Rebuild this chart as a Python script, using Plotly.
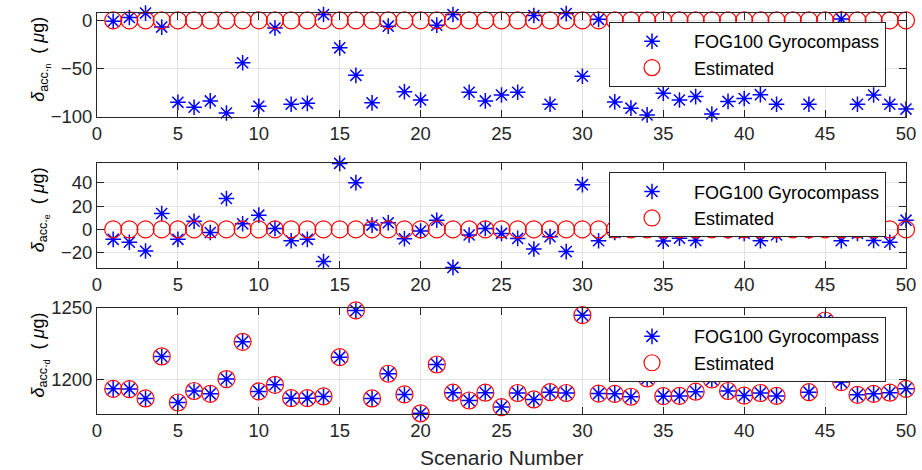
import plotly.graph_objects as go
from plotly.subplots import make_subplots

scenarios = list(range(1, 51))

# North accelerometer bias (µg)
fog_n = [-1, 3, 7.5, -7, -85, -90, -83.5, -96, -44, -89,
         -8, -87, -86, 6, -28.5, -57, -85.5, -6, -74, -82.5,
         -5, 6, -74.5, -83.5, -77.3, -74.5, 5, -87, 7, -58,
         1, -84.5, -91, -98, -75.5, -82.5, -79, -97, -84, -81,
         -77, -87, -30, -87, -35, 1.5, -87, -77.3, -87, -92]
est_n = [0] * 50

# East accelerometer bias (µg)
fog_e = [-8.5, -11, -18.5, 13.6, -8.5, 7, -2.6, 26.4, 4.8, 12.2,
         0.8, -9.7, -8.5, -27.5, 56.5, 40, 3.7, 5.7, -8, -1.4,
         7.9, -32.5, -4.8, 0.8, -3.4, -7.7, -16.8, -6.2, -19, 38.3,
         -9.7, -2.6, 1, 3, -10, -7.5, -9.5, 2, -1.4, -3.4,
         -9.7, -4.8, 3, -1.4, 4, -9.7, -3.4, -9.5, -11, 7.9]
est_e = [0] * 50

# Down accelerometer bias (µg)
fog_d = [1193.5, 1193.3, 1186.8, 1216, 1184, 1192, 1190, 1200.3, 1226.2, 1191.7,
         1196.3, 1187, 1187, 1188.2, 1215.5, 1248, 1186.8, 1204, 1189.6, 1176.5,
         1210.4, 1190.8, 1185.4, 1190.8, 1180.8, 1190.6, 1186.1, 1191.2, 1190.6, 1244.7,
         1190.2, 1190, 1188, 1200.7, 1188.4, 1188.6, 1191.5, 1200, 1192, 1188.8,
         1190.6, 1188.6, 1220, 1191.2, 1241, 1198.2, 1189.3, 1190, 1190.8, 1193.5]
est_d = list(fog_d)

x_ticks = list(range(0, 51, 5))
y_ticks = [[-100, -50, 0], [-20, 0, 20, 40], [1200, 1250]]
y_ranges = [[-100, 7.6], [-32.7, 56.5], [1176, 1250]]
y_labels = ["<i>δ</i><sub>acc.<sub>n</sub></sub>  ( <i>μ</i>g)",
            "<i>δ</i><sub>acc.<sub>e</sub></sub>  ( <i>μ</i>g)",
            "<i>δ</i><sub>acc.<sub>d</sub></sub>  ( <i>μ</i>g)"]

W, H = 922, 470
L, R = 97, 906
tops = [12.7, 163.3, 307.7]
bots = [116.7, 267.7, 414.3]
T, B = tops[0], bots[2]
ph = B - T

def dom(i):
    return [(B - bots[i]) / ph, (B - tops[i]) / ph]

FONT = "Arial, Liberation Sans, sans-serif"
fig = make_subplots(rows=3, cols=1)

data = [(fog_n, est_n), (fog_e, est_e), (fog_d, est_d)]
for i, (f, e) in enumerate(data):
    lg = "legend" if i == 0 else f"legend{i+1}"
    fig.add_trace(go.Scatter(x=scenarios, y=f, mode="markers", name="FOG100 Gyrocompass",
                             cliponaxis=False,
                             marker=dict(symbol="asterisk-open", size=13, color="#0000ff",
                                         line=dict(color="#0000ff", width=1.5)),
                             legend=lg), row=i + 1, col=1)
    fig.add_trace(go.Scatter(x=scenarios, y=e, mode="markers", name="Estimated",
                             cliponaxis=False,
                             marker=dict(symbol="circle-open", size=17, color="#ff0000",
                                         line=dict(color="#ff0000", width=1.2)),
                             legend=lg), row=i + 1, col=1)

axis_common = dict(showline=True, linecolor="#262626", linewidth=1, mirror="ticks",
                   ticks="inside", ticklen=7, tickcolor="#262626", automargin=False,
                   showgrid=True, gridcolor="#e3e3e3", gridwidth=1, zeroline=False,
                   tickfont=dict(family=FONT, size=18.5, color="#262626"))

layout = dict(template="none", width=W, height=H,
              margin=dict(l=L, r=W - R, t=T, b=H - B, pad=0, autoexpand=False),
              plot_bgcolor="white", paper_bgcolor="white",
              font=dict(family=FONT, size=18, color="#000000"))
fig.update_layout(**layout)

for i in range(3):
    xa = "xaxis" if i == 0 else f"xaxis{i+1}"
    ya = "yaxis" if i == 0 else f"yaxis{i+1}"
    fig.update_layout(**{
        xa: dict(axis_common, range=[0, 50], tickvals=x_ticks, domain=[0, 1]),
        ya: dict(axis_common, range=y_ranges[i], tickvals=y_ticks[i], domain=dom(i)),
    })
    lg = "legend" if i == 0 else f"legend{i+1}"
    top_px = [21.7, 172.3, 317.3][i]
    fig.update_layout(**{lg: dict(x=(886 - L) / (R - L), xanchor="right",
                                  y=(B - top_px) / ph, yanchor="top",
                                  bgcolor="white", bordercolor="#262626", borderwidth=1,
                                  font=dict(family=FONT, size=18, color="#000000"),
                                  itemwidth=74, tracegroupgap=0)})
    yref = "y domain" if i == 0 else f"y{i+1} domain"
    fig.add_annotation(text=y_labels[i], textangle=-90, xref="paper", x=(40 - L) / (R - L),
                       xanchor="center", yref=yref, y=0.55, yanchor="middle", showarrow=False,
                       font=dict(family=FONT, size=18, color="#000000"))

fig.add_annotation(text="Scenario Number", xref="paper", x=0.5, yref="paper",
                   y=(B - 458) / ph, yanchor="middle", showarrow=False,
                   font=dict(family=FONT, size=21, color="#262626"))

fig.write_html("out.html")
